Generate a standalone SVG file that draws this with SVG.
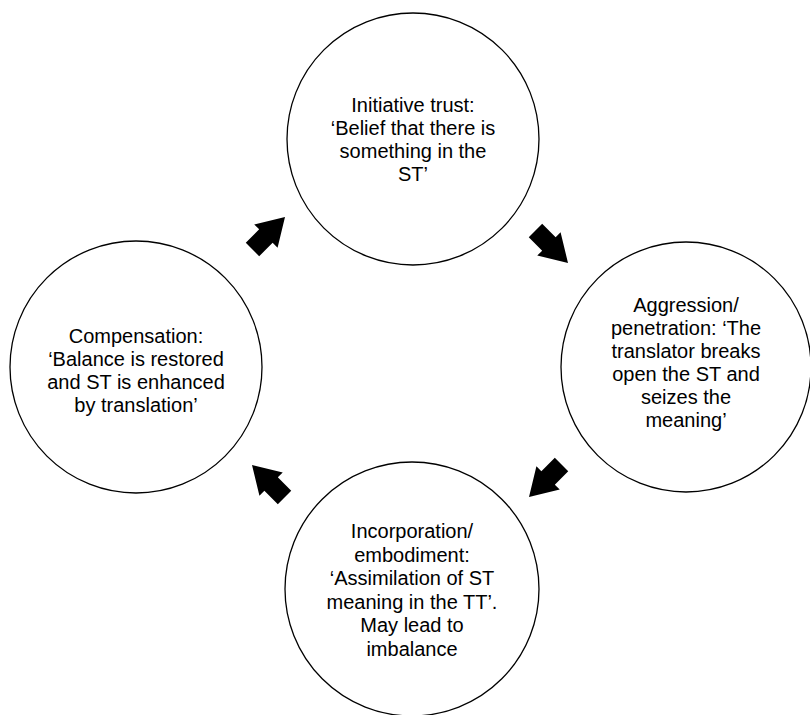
<svg xmlns="http://www.w3.org/2000/svg" width="810" height="715" viewBox="0 0 810 715">
<style>
.c{fill:#fff;stroke:#000;stroke-width:1.3}
.t{font-family:"Liberation Sans",Arial,Helvetica,sans-serif;font-size:20px;fill:#000;text-anchor:middle}
.a{fill:#000}
</style>
<defs>
<path id="arr" d="M0,0 L-27,-16.5 L-27,-9.5 L-46,-9.5 L-46,9.5 L-27,9.5 L-27,16.5 Z"/>
</defs>
<rect width="810" height="715" fill="#fff"/>
<g id="node-top">
<circle class="c" cx="413" cy="139" r="126"/>
<text class="t" x="413" y="112">Initiative trust:</text>
<text class="t" x="413" y="135">‘Belief that there is</text>
<text class="t" x="413" y="158">something in the</text>
<text class="t" x="413" y="181">ST’</text>
</g>
<g id="node-right">
<circle class="c" cx="686" cy="367" r="125"/>
<text class="t" x="686" y="312">Aggression/</text>
<text class="t" x="686" y="335">penetration: ‘The</text>
<text class="t" x="686" y="358">translator breaks</text>
<text class="t" x="686" y="381">open the ST and</text>
<text class="t" x="686" y="404">seizes the</text>
<text class="t" x="686" y="427">meaning’</text>
</g>
<g id="node-bottom">
<circle class="c" cx="412" cy="589" r="127"/>
<text class="t" x="412" y="538">Incorporation/</text>
<text class="t" x="412" y="562">embodiment:</text>
<text class="t" x="412" y="585">‘Assimilation of ST</text>
<text class="t" x="412" y="609">meaning in the TT’.</text>
<text class="t" x="412" y="632">May lead to</text>
<text class="t" x="412" y="656">imbalance</text>
</g>
<g id="node-left">
<circle class="c" cx="136" cy="367" r="126"/>
<text class="t" x="136" y="343">Compensation:</text>
<text class="t" x="136" y="366">‘Balance is restored</text>
<text class="t" x="136" y="389">and ST is enhanced</text>
<text class="t" x="136" y="412">by translation’</text>
</g>
<g id="connectors">
<use href="#arr" class="a" transform="translate(285,217) rotate(-45)"/>
<use href="#arr" class="a" transform="translate(568,263) rotate(45)"/>
<use href="#arr" class="a" transform="translate(529,497) rotate(135)"/>
<use href="#arr" class="a" transform="translate(252,465) rotate(-135)"/>
</g>
</svg>
